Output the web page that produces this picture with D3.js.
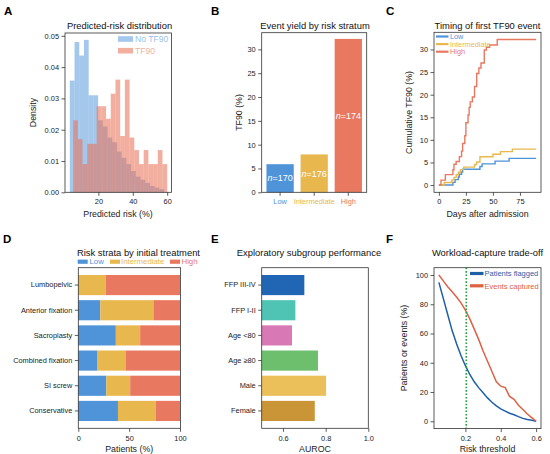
<!DOCTYPE html>
<html>
<head>
<meta charset="utf-8">
<script src="https://cdn.jsdelivr.net/npm/d3@7"></script>
<style>
  body { margin: 0; background: #fff; }
  svg { font-family: "Liberation Sans", Arial, sans-serif; }
</style>
</head>
<body>
<svg id="fig" width="550" height="454"></svg>
<script>
// ---- A: predicted-risk histograms (density per bin, 20 bins each) ----
const noTf90Range = [3.4, 58.2];
const noTf90Density = [0.0357, 0.048, 0.0437, 0.0487, 0.031, 0.031, 0.023, 0.021, 0.0175, 0.016,
  0.013, 0.011, 0.009, 0.0068, 0.005, 0.004, 0.003, 0.002, 0.0015, 0.001];
const tf90Range = [5.33, 60];
const tf90Density = [0.023, 0.017, 0.009, 0.0155, 0.0155, 0.0275, 0.0275, 0.0235, 0.0315, 0.036,
  0.018, 0.036, 0.0175, 0.0135, 0.009, 0.0135, 0.009, 0.009, 0.0135, 0.009];

// ---- B: event yield by stratum ----
const strata = ['Low', 'Intermediate', 'High'];
const strataTf90 = [5.9, 7.95, 32.2];
const strataN = [170, 176, 174];

// ---- C: cumulative TF90 (step curves) ----
const lowDays = [0, 13, 15, 18, 19, 21, 22, 38, 40, 52, 65, 90];
const lowPct = [0, 0.6, 1.2, 1.8, 2.4, 2.9, 3.5, 4.1, 4.7, 5.3, 5.9, 5.9];
const midDays = [0, 5, 12, 14, 16, 18, 20, 23, 33, 35, 38, 50, 57, 68, 90];
const midPct = [0, 0.57, 1.14, 1.7, 2.27, 2.84, 3.41, 3.98, 4.55, 5.11, 6.25, 6.82, 7.39, 7.95, 7.95];
const highDays = [0, 2, 6, 13, 14, 16, 19, 21, 22, 24, 25, 27, 28, 29, 31, 33, 35, 37, 39, 42, 44, 47, 54, 90];
const highPct = [0, 1.1, 2.3, 3.4, 4.6, 5.2, 6.3, 7.5, 9.2, 10.9, 13.8, 15.5, 17.2, 18.4, 19.5, 21.8,
  24.7, 25.9, 27.0, 29.9, 30.5, 31.0, 32.2, 32.2];

// ---- D: risk strata by initial treatment (% of patients) ----
const treatments = ['Lumbopelvic', 'Anterior fixation', 'Sacroplasty', 'Combined fixation', 'SI screw', 'Conservative'];
const treatLow = [0, 21.6, 36.9, 18.9, 27.5, 39];
const treatMid = [26.8, 52.3, 23.9, 27.5, 23.5, 37];
const treatHigh = [73.2, 26.1, 39.2, 53.6, 49, 24];

// ---- E: subgroup AUROC ----
const subgroups = ['FFP III-IV', 'FFP I-II', 'Age <80', 'Age \u226580', 'Male', 'Female'];
const subgroupAuroc = [0.70, 0.658, 0.642, 0.764, 0.802, 0.749];

// ---- F: workload-capture trade-off ----
const thresholds = [0.05, 0.075, 0.1, 0.125, 0.15, 0.175, 0.2, 0.225, 0.25, 0.275, 0.3, 0.325,
  0.35, 0.375, 0.4, 0.425, 0.45, 0.475, 0.5, 0.525, 0.55, 0.575, 0.6];
const patientsFlagged = [95, 84, 73, 62, 53, 45, 38, 32, 27, 23, 19.5, 16, 13, 10.5, 8.5, 7, 5.5,
  4.5, 3.2, 2, 1.2, 0.7, 0];
const eventsCaptured = [100, 96, 92, 88.5, 85, 81, 76, 70, 63, 56, 48, 41, 34, 27, 24, 23, 17, 15,
  11, 8, 5, 2.5, 0];
const cutoff = 0.205;

const INK = '#333';
const TXT = '#222';
const col = { Low: '#4f93d8', Intermediate: '#e8b84f', High: '#e8785f' };
const subgroupColors = ['#2166b4', '#4fc3b4', '#d878b4', '#6dbf6e', '#ebbf5a', '#c99537'];

const svg = d3.select('#fig');

function text(x, y, s, o = {}) {
  return svg.append('text')
    .attr('x', x).attr('y', y)
    .attr('text-anchor', o.anchor || 'middle')
    .attr('fill', o.fill || TXT)
    .style('font-size', (o.size || 8.8) + 'px')
    .style('font-weight', o.weight || null)
    .text(s);
}

function ylabel(x, y, s) {
  svg.append('text')
    .attr('transform', `translate(${x},${y}) rotate(-90)`)
    .attr('text-anchor', 'middle').attr('dy', '0.35em')
    .attr('fill', TXT).style('font-size', '8.8px')
    .text(s);
}

function axis(gen, tx, ty) {
  const a = svg.append('g').attr('transform', `translate(${tx},${ty})`).call(gen);
  a.attr('font-family', null).attr('font-size', null);
  a.select('.domain').remove();
  a.selectAll('.tick line').attr('stroke', INK).attr('stroke-width', 0.8);
  a.selectAll('.tick text').attr('fill', TXT).style('font-size', '7.4px');
  return a;
}

function frame(x0, y0, x1, y1) {
  svg.append('rect')
    .attr('x', x0).attr('y', y0).attr('width', x1 - x0).attr('height', y1 - y0)
    .attr('fill', 'none').attr('stroke', INK).attr('stroke-width', 0.8);
}

// panel letters
[['A', 4, 15], ['B', 211, 15], ['C', 386, 15], ['D', 3, 243], ['E', 211, 243], ['F', 386, 243]]
  .forEach(([s, x, y]) => text(x, y, s, { anchor: 'start', size: 11.5, weight: 'bold', fill: '#000' }));

// ================= A =================
{
  const x = d3.scaleLinear().domain([0.6, 62.5]).range([65, 171.5]);
  const y = d3.scaleLinear().domain([0, 0.0509]).range([192.3, 33]);
  const drawHist = (vals, range, fill, op) => {
    const w = (range[1] - range[0]) / vals.length;
    svg.append('g').selectAll('rect').data(vals).join('rect')
      .attr('x', (d, i) => x(range[0] + i * w))
      .attr('width', x(range[0] + w) - x(range[0]))
      .attr('y', d => y(d))
      .attr('height', d => y(0) - y(d))
      .attr('fill', fill).attr('fill-opacity', op);
  };
  drawHist(noTf90Density, noTf90Range, '#4a90d9', 0.5);
  drawHist(tf90Density, tf90Range, '#e8735a', 0.58);
  axis(d3.axisBottom(x).tickValues([20, 40, 60]).tickSize(3.5).tickPadding(2.5), 0, 192.3);
  axis(d3.axisLeft(y).tickValues([0, 0.01, 0.02, 0.03, 0.04, 0.05]).tickFormat(d3.format('.2f'))
    .tickSize(3.5).tickPadding(2.5), 65, 0);
  frame(65, 33, 171.5, 192.3);
  [['No TF90', '#4a90d9', 39, 0.5], ['TF90', '#e8735a', 50.7, 0.58]].forEach(([s, c, yy, op]) => {
    svg.append('rect').attr('x', 118).attr('y', yy - 2.8).attr('width', 15).attr('height', 5.6)
      .attr('fill', c).attr('fill-opacity', op);
    text(135, yy + 3, s, { anchor: 'start', size: 8.6, fill: c }).attr('fill-opacity', 0.6);
  });
  text(119.5, 28.5, 'Predicted-risk distribution', { size: 9.4, fill: '#111' });
  text(118, 217, 'Predicted risk (%)');
  ylabel(33, 112.5, 'Density');
}

// ================= B =================
{
  const x = d3.scaleBand().domain(strata).range([261.7, 366.7]).paddingInner(0.2).paddingOuter(0.14);
  const y = d3.scaleLinear().domain([0, 33.5]).range([192.3, 32.7]);
  svg.append('g').selectAll('rect').data(strata).join('rect')
    .attr('x', d => x(d)).attr('width', x.bandwidth())
    .attr('y', (d, i) => y(strataTf90[i]))
    .attr('height', (d, i) => y(0) - y(strataTf90[i]))
    .attr('fill', d => col[d]);
  strata.forEach((s, i) => {
    const t = svg.append('text')
      .attr('x', x(s) + x.bandwidth() / 2).attr('y', y(strataTf90[i] / 2))
      .attr('dy', '0.35em').attr('text-anchor', 'middle')
      .attr('fill', '#fff').style('font-size', '9px');
    t.append('tspan').style('font-style', 'italic').text('n');
    t.append('tspan').text('=' + strataN[i]);
  });
  const ax = axis(d3.axisBottom(x).tickSize(3.5).tickPadding(2.5), 0, 192.3);
  ax.selectAll('.tick text').attr('fill', d => col[d]);
  axis(d3.axisLeft(y).tickValues([0, 5, 10, 15, 20, 25, 30]).tickSize(3.5).tickPadding(2.5), 261.7, 0);
  frame(261.7, 32.7, 366.7, 192.3);
  text(315, 28.5, 'Event yield by risk stratum', { size: 9.4, fill: '#111' });
  ylabel(238.5, 112.5, 'TF90 (%)');
}

// ================= C =================
{
  const x = d3.scaleLinear().domain([-4.5, 94.5]).range([434, 541]);
  const y = d3.scaleLinear().domain([-1.6, 33.8]).range([192.3, 32.3]);
  const line = d3.line().x(d => x(d[0])).y(d => y(d[1])).curve(d3.curveStepAfter);
  const curves = [
    ['Low', d3.zip(lowDays, lowPct)],
    ['Intermediate', d3.zip(midDays, midPct)],
    ['High', d3.zip(highDays, highPct)]
  ];
  curves.forEach(([k, pts]) => {
    svg.append('path').datum(pts).attr('d', line)
      .attr('fill', 'none').attr('stroke', col[k]).attr('stroke-width', 1.4);
  });
  axis(d3.axisBottom(x).tickValues([0, 25, 50, 75]).tickSize(3.5).tickPadding(2.5), 0, 192.3);
  axis(d3.axisLeft(y).tickValues([0, 5, 10, 15, 20, 25, 30]).tickSize(3.5).tickPadding(2.5), 434, 0);
  frame(434, 32.3, 541, 192.3);
  curves.forEach(([k], i) => {
    const yy = 36.5 + i * 7.6;
    svg.append('line').attr('x1', 436).attr('x2', 448.5).attr('y1', yy).attr('y2', yy)
      .attr('stroke', col[k]).attr('stroke-width', 2.2);
    text(450, yy + 2.6, k, { anchor: 'start', size: 7.3, fill: col[k] });
  });
  text(487.5, 28.5, 'Timing of first TF90 event', { size: 9.4, fill: '#111' });
  text(487.5, 217, 'Days after admission');
  ylabel(409, 112.5, 'Cumulative TF90 (%)');
}

// ================= D =================
{
  const x = d3.scaleLinear().domain([0, 100]).range([78.3, 180]);
  const y = d3.scaleBand().domain(treatments).range([267.7, 428.3]).paddingInner(0.2).paddingOuter(0.29);
  const rows = treatments.map((t, i) => ({ t, Low: treatLow[i], Intermediate: treatMid[i], High: treatHigh[i] }));
  const series = d3.stack().keys(strata)(rows);
  svg.append('g').selectAll('g').data(series).join('g')
    .attr('fill', s => col[s.key])
    .selectAll('rect').data(s => s).join('rect')
    .attr('x', d => x(d[0])).attr('width', d => x(d[1]) - x(d[0]))
    .attr('y', d => y(d.data.t)).attr('height', y.bandwidth());
  axis(d3.axisBottom(x).tickValues([0, 50, 100]).tickSize(3.5).tickPadding(3.5), 0, 428.3);
  axis(d3.axisLeft(y).tickSize(3.5).tickPadding(2.5), 78.3, 0);
  frame(78.3, 267.7, 180.6, 428.3);
  [[77.7, 89.5], [110, 121], [170, 181.5]].forEach(([px, tx], i) => {
    const k = strata[i];
    svg.append('rect').attr('x', px).attr('y', 259.6).attr('width', 10).attr('height', 4.2).attr('fill', col[k]);
    text(tx, 264.4, k, { anchor: 'start', size: 7.8, fill: col[k] });
  });
  text(77, 255.5, 'Risk strata by initial treatment', { anchor: 'start', size: 9.4, fill: '#111' });
  text(129.2, 451.5, 'Patients (%)');
}

// ================= E =================
{
  const x = d3.scaleLinear().domain([0.5, 1.0]).range([261.7, 368.3]);
  const y = d3.scaleBand().domain(subgroups).range([267.7, 428.3]).paddingInner(0.2).paddingOuter(0.29);
  svg.append('g').selectAll('rect').data(subgroups).join('rect')
    .attr('x', x(0.5)).attr('y', d => y(d))
    .attr('width', (d, i) => x(subgroupAuroc[i]) - x(0.5))
    .attr('height', y.bandwidth())
    .attr('fill', (d, i) => subgroupColors[i]);
  axis(d3.axisBottom(x).tickValues([0.6, 0.8, 1.0]).tickFormat(d3.format('.1f')).tickSize(3.5).tickPadding(3.5), 0, 428.3);
  axis(d3.axisLeft(y).tickSize(3.5).tickPadding(2.5), 261.7, 0);
  frame(261.7, 267.7, 368.3, 428.3);
  text(309, 256, 'Exploratory subgroup performance', { size: 9.4, fill: '#111' });
  text(315, 451.5, 'AUROC');
}

// ================= F =================
{
  const x = d3.scaleLinear().domain([0.0225, 0.6275]).range([434, 541]);
  const y = d3.scaleLinear().domain([-5, 105]).range([428.6, 267.7]);
  const line = d3.line().x(d => x(d[0])).y(d => y(d[1]));
  const fSeries = [
    ['Patients flagged', d3.zip(thresholds, patientsFlagged), '#1f5fa8'],
    ['Events captured', d3.zip(thresholds, eventsCaptured), '#dd6244']
  ];
  fSeries.forEach(([k, pts, c]) => {
    svg.append('path').datum(pts).attr('d', line)
      .attr('fill', 'none').attr('stroke', c).attr('stroke-width', 1.5);
  });
  svg.append('line').attr('x1', x(cutoff)).attr('x2', x(cutoff)).attr('y1', 267.7).attr('y2', 428.6)
    .attr('stroke', '#23a040').attr('stroke-width', 1.6).attr('stroke-dasharray', '1.6,1.8');
  axis(d3.axisBottom(x).tickValues([0.2, 0.4, 0.6]).tickFormat(d3.format('.1f')).tickSize(3.5).tickPadding(3.5), 0, 428.6);
  axis(d3.axisLeft(y).tickValues([0, 20, 40, 60, 80, 100]).tickSize(3.5).tickPadding(2.5), 434, 0);
  frame(434, 267.7, 541, 428.6);
  fSeries.forEach(([k, pts, c], i) => {
    const yy = 273.5 + i * 12.3;
    svg.append('rect').attr('x', 470).attr('y', yy - 1.6).attr('width', 13.5).attr('height', 3.2).attr('fill', c);
    text(484.5, yy + 2.7, k, { anchor: 'start', size: 7.5, fill: c });
  });
  text(487.5, 256, 'Workload-capture trade-off', { size: 9.4, fill: '#111' });
  text(487.5, 451.5, 'Risk threshold');
  ylabel(404, 348, 'Patients or events (%)');
}
</script>
</body>
</html>
